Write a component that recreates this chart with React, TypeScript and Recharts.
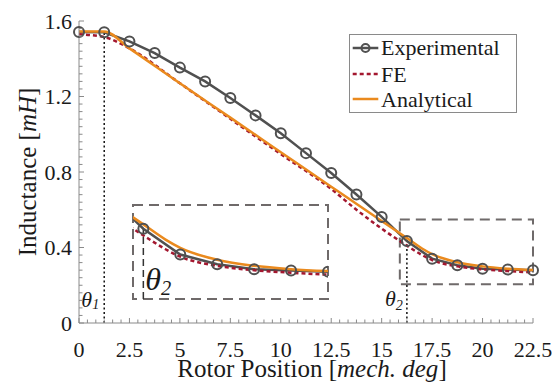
import React from 'react';
import { LineChart, Line, XAxis, YAxis, ReferenceLine, ReferenceArea } from 'recharts';

// ---- data ----
const expAngles = [0, 1.25, 2.5, 3.75, 5, 6.25, 7.5, 8.75, 10, 11.25, 12.5, 13.75, 15, 16.25, 17.5, 18.75, 20, 21.25, 22.5];
const expValues = [1.542, 1.54, 1.492, 1.43, 1.353, 1.28, 1.192, 1.1, 1.005, 0.9, 0.795, 0.681, 0.562, 0.434, 0.341, 0.306, 0.288, 0.283, 0.279];

const feAngles = [0, 1.25, 2.5, 5, 7.5, 10, 12.5, 13.75, 15, 16.25, 17, 17.5, 18.75, 20, 21.25, 22.5];
const feValues = [1.53, 1.515, 1.455, 1.27, 1.082, 0.895, 0.71, 0.6, 0.5, 0.41, 0.36, 0.333, 0.3, 0.284, 0.275, 0.268];

const anaAngles = [0, 1.25, 2.5, 5, 7.5, 10, 12.5, 15, 16.25, 17, 17.5, 18.75, 20, 21.25, 22.5];
const anaValues = [1.545, 1.545, 1.455, 1.27, 1.088, 0.905, 0.722, 0.54, 0.45, 0.395, 0.365, 0.322, 0.3, 0.288, 0.281];

const xMajorTicks = [0, 2.5, 5, 7.5, 10, 12.5, 15, 17.5, 20, 22.5];
const xTickLabels = ['0', '2.5', '5', '7.5', '10', '12.5', '15', '17.5', '20', '22.5'];
const yMajorTicks = [0, 0.4, 0.8, 1.2, 1.6];
const yTickLabels = ['0', '0.4', '0.8', '1.2', '1.6'];

const theta1Angle = 1.25;
const theta2Angle = 16.25;
const zoomBoxX = [15.9, 22.5];
const zoomBoxY = [0.205, 0.548];
const insetY = [0.18, 0.52];

const legendItems = ['Experimental', 'FE', 'Analytical'];

// ---- built tables ----
const toRows = (xs: number[], ys: number[]) => xs.map((a, i) => ({ a, v: ys[i] }));
const expData = toRows(expAngles, expValues);
const feData = toRows(feAngles, feValues);
const anaData = toRows(anaAngles, anaValues);

const xMinorTicks: number[] = [];
for (let i = 0; i <= 54; i++) xMinorTicks.push(+(i * 2.5 / 6).toFixed(6));
const yMinorTicks: number[] = [];
for (let i = 0; i <= 40; i++) yMinorTicks.push(+(i * 0.04).toFixed(6));

const SERIF = "'Liberation Serif'";
const fontStyle = { fontFamily: SERIF } as React.CSSProperties;
const AXIS = '#8a8a8a';
const TEXT = '#1a1a1a';
const C_EXP = '#505050';
const C_FE = '#a3172f';
const C_ANA = '#ea8a1e';
const C_BOX = '#6f6a6a';

const findMajor = (list: number[], v: number) => list.findIndex((m) => Math.abs(m - v) < 1e-6);

const SerifText = (p: any) => {
  const { children, ...rest } = p;
  return (
    <text fontFamily="Liberation Serif" style={fontStyle} fill={TEXT} {...rest}>
      <tspan style={fontStyle} fontFamily="Liberation Serif">{children}</tspan>
    </text>
  );
};

const BottomTick = (p: any) => {
  const { x, y, payload } = p;
  const idx = findMajor(xMajorTicks, payload.value);
  return (
    <g>
      <line x1={x} x2={x} y1={y} y2={y - (idx >= 0 ? 5 : 3.5)} stroke={AXIS} strokeWidth={1} />
      {idx >= 0 && (
        <SerifText x={x} y={y + 34} textAnchor="middle" fontSize={22}>
          {xTickLabels[idx]}
        </SerifText>
      )}
    </g>
  );
};
const TopTick = (p: any) => {
  const { x, y, payload } = p;
  const idx = findMajor(xMajorTicks, payload.value);
  return <line x1={x} x2={x} y1={y} y2={y + (idx >= 0 ? 5 : 3.5)} stroke={AXIS} strokeWidth={1} />;
};
const LeftTick = (p: any) => {
  const { x, y, payload } = p;
  const idx = findMajor(yMajorTicks, payload.value);
  return (
    <g>
      <line x1={x} x2={x + (idx >= 0 ? 5 : 3.5)} y1={y} y2={y} stroke={AXIS} strokeWidth={1} />
      {idx >= 0 && (
        <SerifText x={x - 7} y={y + 7.5} textAnchor="end" fontSize={22}>
          {yTickLabels[idx]}
        </SerifText>
      )}
    </g>
  );
};
const RightTick = (p: any) => {
  const { x, y, payload } = p;
  const idx = findMajor(yMajorTicks, payload.value);
  return <line x1={x} x2={x - (idx >= 0 ? 5 : 3.5)} y1={y} y2={y} stroke={AXIS} strokeWidth={1} />;
};

const thetaLabel = (sub: string, size: number, dx: number, up: number, anchor: 'start' | 'end', subDy: number) =>
  (props: any) => {
    const vb = props.viewBox || {};
    const x = (vb.x ?? 0) + dx;
    const y = (vb.y ?? 0) + (vb.height ?? 0) - up;
    return (
      <text x={x} y={y} textAnchor={anchor} fontFamily="Liberation Serif" style={fontStyle} fontStyle="italic" fontSize={size} fill={TEXT}>
        θ<tspan fontSize={size * 0.64} dy={subDy}>{sub}</tspan>
      </text>
    );
  };

const YTitle = () => (
  <text
    x={27}
    y={172}
    transform="rotate(-90, 27, 172)"
    textAnchor="middle"
    dominantBaseline="central"
    fontFamily="Liberation Serif"
    style={fontStyle}
    fontSize={25}
    fill={TEXT}
  >
    Inductance [<tspan fontStyle="italic">mH</tspan>]
  </text>
);
const XTitle = () => (
  <text x={312} y={377} textAnchor="middle" fontFamily="Liberation Serif" style={fontStyle} fontSize={25} fill={TEXT}>
    Rotor Position [<tspan fontStyle="italic">mech. deg</tspan>]
  </text>
);

const expDot = { r: 5, stroke: C_EXP, strokeWidth: 2, fill: 'none' };

export default function App() {
  return (
    <div style={{ position: 'absolute', left: 0, top: 0, width: 554, height: 385, background: '#fff', fontFamily: SERIF }}>
      <div style={{ position: 'absolute', left: 0, top: 0 }}>
        <LineChart width={554} height={385} margin={{ top: 21, right: 21, bottom: 0, left: 0 }}>
          <XAxis
            dataKey="a"
            type="number"
            domain={[0, 22.5]}
            ticks={xMinorTicks}
            interval={0}
            height={62}
            tickSize={0}
            tickMargin={0}
            tickLine={false}
            axisLine={{ stroke: AXIS }}
            tick={BottomTick}
            label={<XTitle />}
          />
          <XAxis
            xAxisId="t"
            orientation="top"
            dataKey="a"
            type="number"
            domain={[0, 22.5]}
            ticks={xMinorTicks}
            interval={0}
            height={0}
            tickSize={0}
            tickMargin={0}
            tickLine={false}
            axisLine={{ stroke: AXIS }}
            tick={TopTick}
          />
          <YAxis
            type="number"
            domain={[0, 1.6]}
            ticks={yMinorTicks}
            interval={0}
            width={79}
            tickSize={0}
            tickMargin={0}
            tickLine={false}
            axisLine={{ stroke: AXIS }}
            tick={LeftTick}
            label={<YTitle />}
          />
          <YAxis
            yAxisId="r"
            orientation="right"
            type="number"
            domain={[0, 1.6]}
            ticks={yMinorTicks}
            interval={0}
            width={0}
            tickSize={0}
            tickMargin={0}
            tickLine={false}
            axisLine={{ stroke: AXIS }}
            tick={RightTick}
          />
          <ReferenceArea
            x1={zoomBoxX[0]}
            x2={zoomBoxX[1]}
            y1={zoomBoxY[0]}
            y2={zoomBoxY[1]}
            fill="none"
            stroke={C_BOX}
            strokeWidth={2}
            strokeDasharray="10 6"
          />
          <ReferenceLine
            segment={[{ x: theta1Angle, y: 0 }, { x: theta1Angle, y: expValues[1] }]}
            stroke="#111"
            strokeWidth={1.5}
            strokeDasharray="2 2.5"
            label={thetaLabel('1', 22, -5, 16, 'end', 2)}
          />
          <ReferenceLine
            segment={[{ x: theta2Angle, y: 0 }, { x: theta2Angle, y: expValues[13] }]}
            stroke="#111"
            strokeWidth={1.5}
            strokeDasharray="2 2.5"
            label={thetaLabel('2', 22, -4, 17, 'end', 4)}
          />
          <Line data={expData} dataKey="v" type="linear" stroke={C_EXP} strokeWidth={2.5} dot={expDot} isAnimationActive={false} />
          <Line data={feData} dataKey="v" type="monotone" stroke={C_FE} strokeWidth={2.5} strokeDasharray="4 3" dot={false} isAnimationActive={false} />
          <Line data={anaData} dataKey="v" type="monotone" stroke={C_ANA} strokeWidth={2.5} dot={false} isAnimationActive={false} />
        </LineChart>
      </div>

      {/* zoomed inset */}
      <div style={{ position: 'absolute', left: 123, top: 195 }}>
        <LineChart width={215} height={114} margin={{ top: 10, right: 10, bottom: 10, left: 10 }}>
          <XAxis dataKey="a" type="number" domain={zoomBoxX} allowDataOverflow hide />
          <YAxis type="number" domain={insetY} allowDataOverflow hide />
          <ReferenceArea
            x1={zoomBoxX[0]}
            x2={zoomBoxX[1]}
            y1={insetY[0]}
            y2={insetY[1]}
            fill="none"
            stroke={C_BOX}
            strokeWidth={2}
            strokeDasharray="10 6"
          />
          <ReferenceLine
            segment={[{ x: theta2Angle, y: insetY[0] }, { x: theta2Angle, y: expValues[13] }]}
            stroke="#333"
            strokeWidth={1.5}
            strokeDasharray="7 4"
            label={thetaLabel('2', 32, 2, 9, 'start', 5)}
          />
          <Line data={expData} dataKey="v" type="linear" stroke={C_EXP} strokeWidth={2.5} dot={expDot} isAnimationActive={false} />
          <Line data={feData} dataKey="v" type="monotone" stroke={C_FE} strokeWidth={2.5} strokeDasharray="4 3" dot={false} isAnimationActive={false} />
          <Line data={anaData} dataKey="v" type="monotone" stroke={C_ANA} strokeWidth={2.5} dot={false} isAnimationActive={false} />
        </LineChart>
      </div>

      {/* legend */}
      <svg width={170} height={82} style={{ position: 'absolute', left: 349, top: 34 }}>
        <rect x={0.5} y={0.5} width={167} height={78} fill="#fff" stroke={AXIS} strokeWidth={1} />
        <line x1={3.7} x2={29.3} y1={14} y2={14} stroke={C_EXP} strokeWidth={2.5} />
        <circle cx={16.5} cy={14} r={4} fill="none" stroke={C_EXP} strokeWidth={2} />
        <line x1={3.7} x2={29.3} y1={40} y2={40} stroke={C_FE} strokeWidth={2.5} strokeDasharray="4 3" />
        <line x1={3.7} x2={29.3} y1={65} y2={65} stroke={C_ANA} strokeWidth={2.5} />
        <SerifText x={32} y={21} fontSize={22}>{legendItems[0]}</SerifText>
        <SerifText x={32} y={47.5} fontSize={22}>{legendItems[1]}</SerifText>
        <SerifText x={32} y={72.5} fontSize={22}>{legendItems[2]}</SerifText>
      </svg>
    </div>
  );
}
